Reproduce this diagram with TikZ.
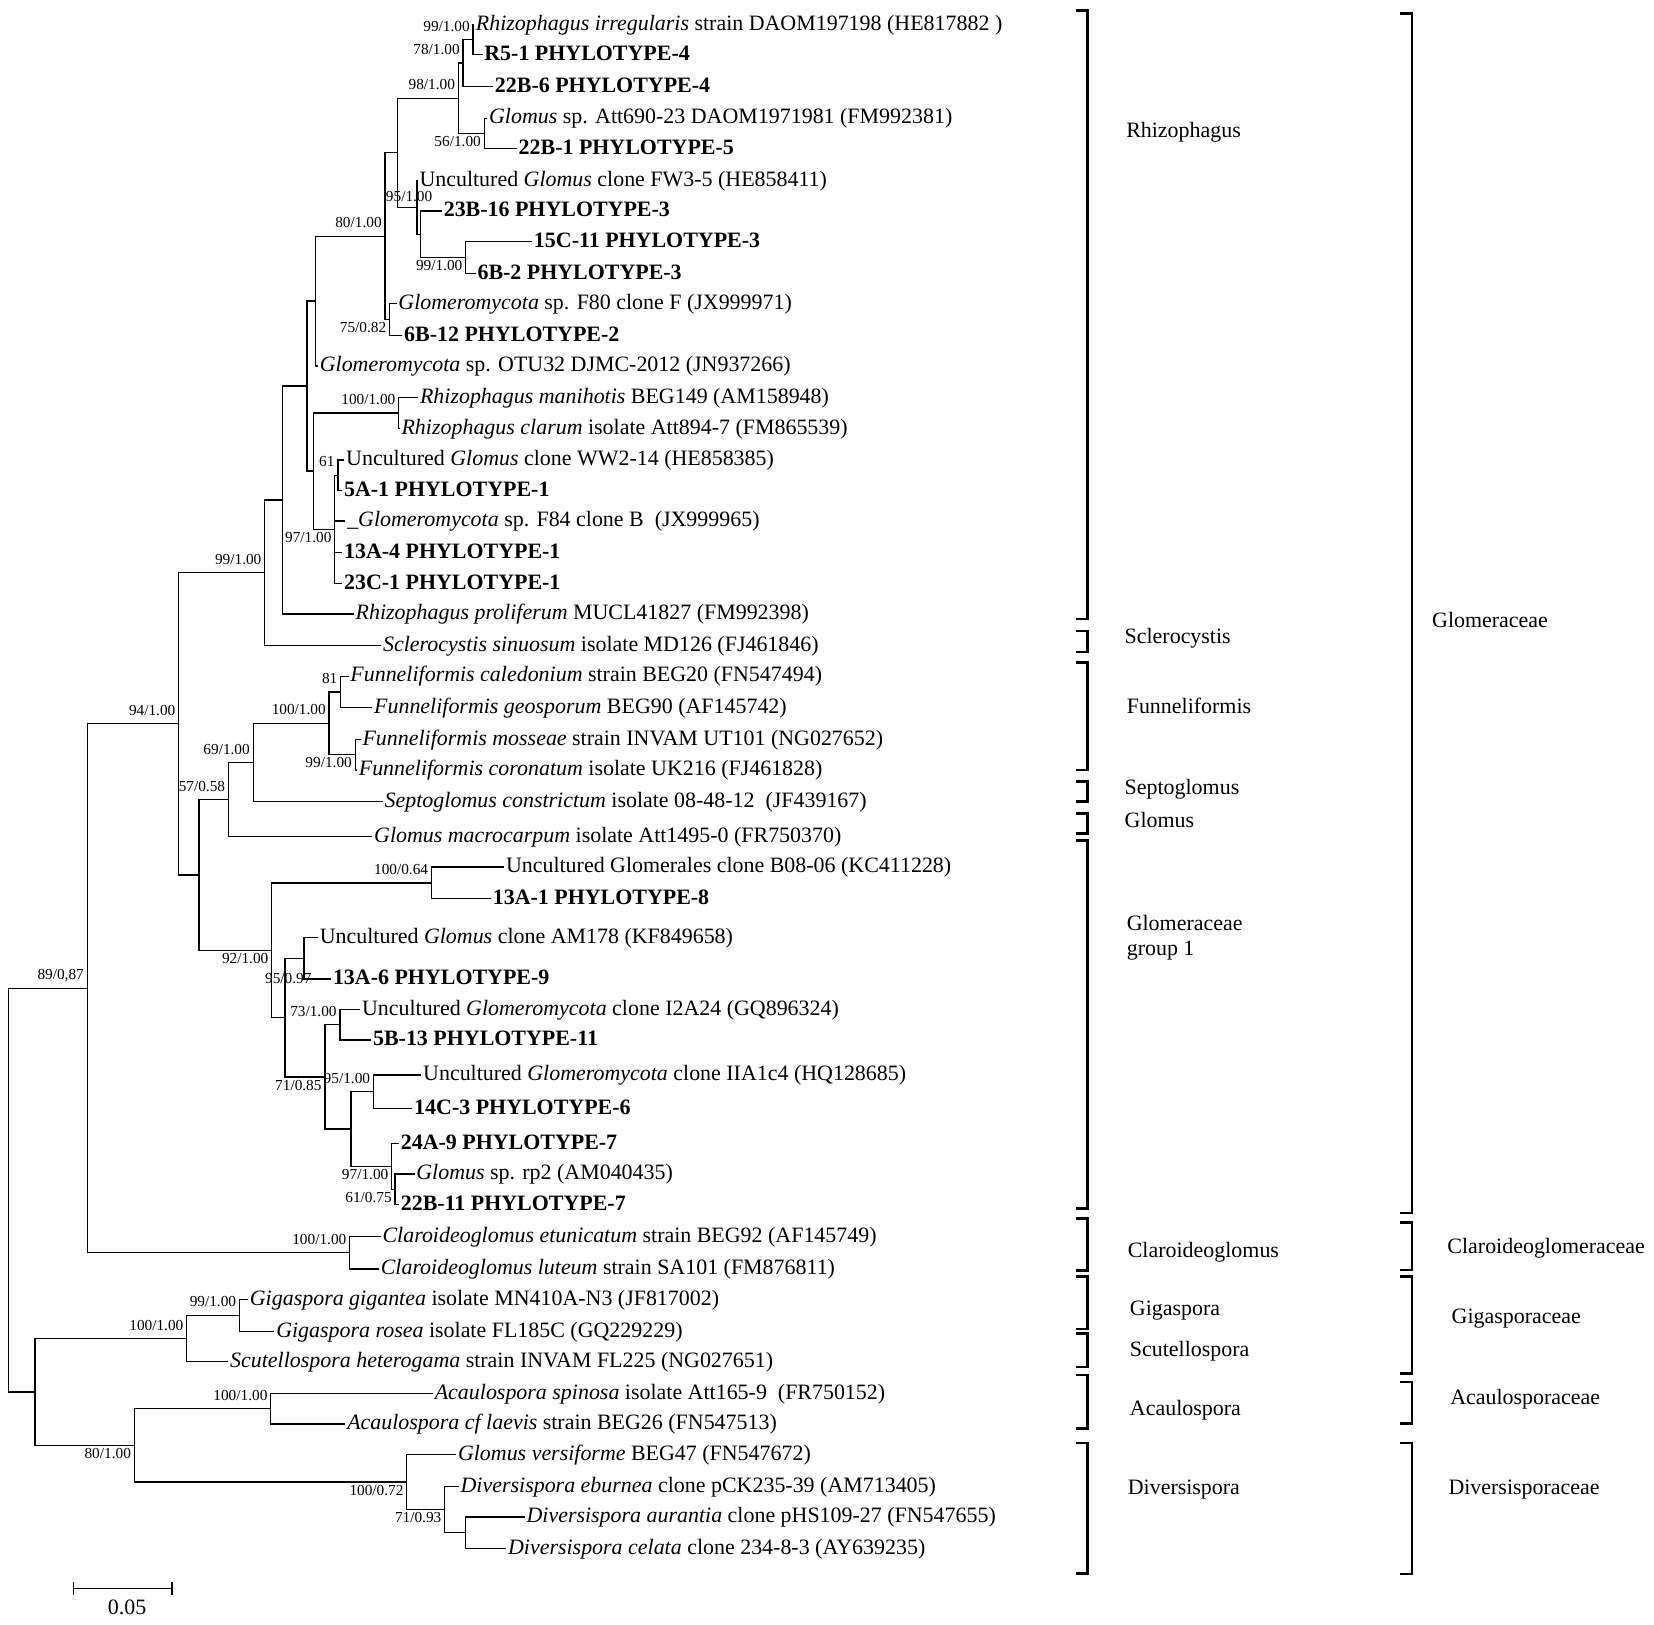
\documentclass[tikz,border=0pt]{standalone}
\usepackage{fontspec}
\setmainfont{Liberation Serif}
\tikzset{
  br/.style={line width=1.2pt},
  clade/.style={line width=2.4pt},
  leaf/.style={anchor=west, inner sep=1.5pt, text height=1.1em, text depth=0em, font=\fontsize{20.8}{25}\selectfont},
  grp/.style={anchor=west, inner sep=0pt, align=left, font=\fontsize{20.8}{24.5}\selectfont},
  bs/.style={anchor=base east, inner sep=0pt, font=\fontsize{14.5}{16}\selectfont},
  bsa/.style={bs, xshift=-3pt, yshift=8pt},
  bsb/.style={bs, xshift=-3pt, yshift=-12.5pt},
}
\begin{document}
\begin{tikzpicture}[x=1pt, y=-1pt]
\useasboundingbox (0,0) rectangle (1568,1540);
% leaves
\node[leaf] (l1) at (449.5,23) {\textit{Rhizophagus irregularis} strain DAOM197198 (HE817882 )};
\node[leaf] (l2) at (457.5,52) {\textbf{R5-1 PHYLOTYPE-4}};
\node[leaf] (l3) at (467.5,82) {\textbf{22B-6 PHYLOTYPE-4}};
\node[leaf] (l4) at (462,112) {\textit{Glomus} sp. Att690-23 DAOM1971981 (FM992381)};
\node[leaf] (l5) at (490,141) {\textbf{22B-1 PHYLOTYPE-5}};
\node[leaf] (l6) at (396,171) {Uncultured \textit{Glomus} clone FW3-5 (HE858411)};
\node[leaf] (l7) at (419,200) {\textbf{23B-16 PHYLOTYPE-3}};
\node[leaf] (l8) at (504.5,229) {\textbf{15C-11 PHYLOTYPE-3}};
\node[leaf] (l9) at (451,259) {\textbf{6B-2 PHYLOTYPE-3}};
\node[leaf] (l10) at (376,288) {\textit{Glomeromycota} sp. F80 clone F (JX999971)};
\node[leaf] (l11) at (381.5,318) {\textbf{6B-12 PHYLOTYPE-2}};
\node[leaf] (l12) at (301.5,347) {\textit{Glomeromycota} sp. OTU32 DJMC-2012 (JN937266)};
\node[leaf] (l13) at (396.5,377) {\textit{Rhizophagus manihotis} BEG149 (AM158948)};
\node[leaf] (l14) at (379,406) {\textit{Rhizophagus clarum} isolate Att894-7 (FM865539)};
\node[leaf] (l15) at (326.5,436) {Uncultured \textit{Glomus} clone WW2-14 (HE858385)};
\node[leaf] (l16) at (324.5,465) {\textbf{5A-1 PHYLOTYPE-1}};
\node[leaf] (l17) at (327.5,494) {\_\textit{Glomeromycota} sp. F84 clone B\ \ (JX999965)};
\node[leaf] (l18) at (324.5,524) {\textbf{13A-4 PHYLOTYPE-1}};
\node[leaf] (l19) at (324.5,553) {\textbf{23C-1 PHYLOTYPE-1}};
\node[leaf] (l20) at (335.5,582) {\textit{Rhizophagus proliferum} MUCL41827 (FM992398)};
\node[leaf] (l21) at (361.5,612) {\textit{Sclerocystis sinuosum} isolate MD126 (FJ461846)};
\node[leaf] (l22) at (330.5,641) {\textit{Funneliformis caledonium} strain BEG20 (FN547494)};
\node[leaf] (l23) at (353,671) {\textit{Funneliformis geosporum} BEG90 (AF145742)};
\node[leaf] (l24) at (342,701) {\textit{Funneliformis mosseae} strain INVAM UT101 (NG027652)};
\node[leaf] (l25) at (338.5,730) {\textit{Funneliformis coronatum} isolate UK216 (FJ461828)};
\node[leaf] (l26) at (363,760) {\textit{Septoglomus constrictum} isolate 08-48-12\ \ (JF439167)};
\node[leaf] (l27) at (353,793) {\textit{Glomus macrocarpum} isolate Att1495-0 (FR750370)};
\node[leaf] (l28) at (478,822) {Uncultured Glomerales clone B08-06 (KC411228)};
\node[leaf] (l29) at (465.5,852) {\textbf{13A-1 PHYLOTYPE-8}};
\node[leaf] (l30) at (301.5,889) {Uncultured \textit{Glomus} clone AM178 (KF849658)};
\node[leaf] (l31) at (314,928) {\textbf{13A-6 PHYLOTYPE-9}};
\node[leaf] (l32) at (341.5,957) {Uncultured \textit{Glomeromycota} clone I2A24 (GQ896324)};
\node[leaf] (l33) at (352,986) {\textbf{5B-13 PHYLOTYPE-11}};
\node[leaf] (l34) at (399.5,1019) {Uncultured \textit{Glomeromycota} clone IIA1c4 (HQ128685)};
\node[leaf] (l35) at (391,1051) {\textbf{14C-3 PHYLOTYPE-6}};
\node[leaf] (l36) at (378.3,1084) {\textbf{24A-9 PHYLOTYPE-7}};
\node[leaf] (l37) at (393,1113) {\textit{Glomus} sp. rp2 (AM040435)};
\node[leaf] (l38) at (378.3,1142) {\textbf{22B-11 PHYLOTYPE-7}};
\node[leaf] (l39) at (361,1172) {\textit{Claroideoglomus etunicatum} strain BEG92 (AF145749)};
\node[leaf] (l40) at (359.3,1203) {\textit{Claroideoglomus luteum} strain SA101 (FM876811)};
\node[leaf] (l41) at (235.2,1232) {\textit{Gigaspora gigantea} isolate MN410A-N3 (JF817002)};
\node[leaf] (l42) at (260.2,1262) {\textit{Gigaspora rosea} isolate FL185C (GQ229229)};
\node[leaf] (l43) at (216.5,1291) {\textit{Scutellospora heterogama} strain INVAM FL225 (NG027651)};
\node[leaf] (l44) at (410.5,1321) {\textit{Acaulospora spinosa} isolate Att165-9\ \ (FR750152)};
\node[leaf] (l45) at (327.5,1350) {\textit{Acaulospora cf laevis} strain BEG26 (FN547513)};
\node[leaf] (l46) at (432.5,1379) {\textit{Glomus versiforme} BEG47 (FN547672)};
\node[leaf] (l47) at (435,1409) {\textit{Diversispora eburnea} clone pCK235-39 (AM713405)};
\node[leaf] (l48) at (497.5,1438) {\textit{Diversispora aurantia} clone pHS109-27 (FN547655)};
\node[leaf] (l49) at (480,1468) {\textit{Diversispora celata} clone 234-8-3 (AY639235)};
% internal nodes
\coordinate (A) at (448.5,37.5);
\coordinate (B) at (439,59.75);
\coordinate (D) at (459,126.5);
\coordinate (C) at (434.5,93.1);
\coordinate (H) at (441.5,244);
\coordinate (G) at (398.6,222);
\coordinate (F) at (395.3,196.5);
\coordinate (E) at (376.6,144.8);
\coordinate (J) at (369.3,303);
\coordinate (I) at (365,223.9);
\coordinate (V) at (299,285.45);
\coordinate (S) at (378,391.5);
\coordinate (U) at (320.3,450.5);
\coordinate (T) at (317.4,501.75);
\coordinate (R) at (297.5,446.6);
\coordinate (Q) at (291,366);
\coordinate (P) at (268,474);
\coordinate (N1) at (251,543);
\coordinate (X) at (323,656);
\coordinate (Y) at (336.7,715.5);
\coordinate (W) at (312,685.75);
\coordinate (O) at (240,722.9);
\coordinate (N) at (216.6,757.9);
\coordinate (AA) at (409,837);
\coordinate (DD) at (288.2,908.5);
\coordinate (FF) at (322.3,971.5);
\coordinate (HH) at (354,1035);
\coordinate (JJ) at (374.5,1127.5);
\coordinate (II) at (371.3,1105.75);
\coordinate (GG) at (332.7,1070.4);
\coordinate (EE) at (308,1020.95);
\coordinate (CC) at (270.2,964.7);
\coordinate (Z) at (257.6,900.85);
\coordinate (M) at (188.7,829.4);
\coordinate (L) at (169.4,686.2);
\coordinate (KK) at (331.5,1187.5);
\coordinate (K) at (82.7,936.85);
\coordinate (NN) at (227,1247);
\coordinate (MM) at (177,1269);
\coordinate (PP) at (256.7,1335.5);
\coordinate (SS) at (441.6,1453);
\coordinate (RR) at (421.6,1431);
\coordinate (QQ) at (385.7,1405);
\coordinate (OO) at (127.3,1370.25);
\coordinate (LL) at (33.3,1319.6);
\coordinate (root) at (8.3,1128.2);
% branches
\draw[br] (l1.west) -| (A) |- (l2.west);
\draw[br] (A) -| (B) |- (l3.west);
\draw[br] (l4.west) -| (D) |- (l5.west);
\draw[br] (B) -| (C) |- (D);
\draw[br] (l8.west) -| (H) |- (l9.west);
\draw[br] (l7.west) -| (G) |- (H);
\draw[br] (l6.west) -| (F) |- (G);
\draw[br] (C) -| (E) |- (F);
\draw[br] (l10.west) -| (J) |- (l11.west);
\draw[br] (E) -| (I) |- (J);
\draw[br] (I) -| (V) |- (l12.west);
\draw[br] (l13.west) -| (S) |- (l14.west);
\draw[br] (l15.west) -| (U) |- (l16.west);
\draw[br] (U) -| (T) |- (l19.west) (T) |- (l17.west) (T) |- (l18.west);
\draw[br] (S) -| (R) |- (T);
\draw[br] (V) -| (Q) |- (R);
\draw[br] (Q) -| (P) |- (l20.west);
\draw[br] (P) -| (N1) |- (l21.west);
\draw[br] (l22.west) -| (X) |- (l23.west);
\draw[br] (l24.west) -| (Y) |- (l25.west);
\draw[br] (X) -| (W) |- (Y);
\draw[br] (W) -| (O) |- (l26.west);
\draw[br] (O) -| (N) |- (l27.west);
\draw[br] (l28.west) -| (AA) |- (l29.west);
\draw[br] (l30.west) -| (DD) |- (l31.west);
\draw[br] (l32.west) -| (FF) |- (l33.west);
\draw[br] (l34.west) -| (HH) |- (l35.west);
\draw[br] (l37.west) -| (JJ) |- (l38.west);
\draw[br] (l36.west) -| (II) |- (JJ);
\draw[br] (HH) -| (GG) |- (II);
\draw[br] (FF) -| (EE) |- (GG);
\draw[br] (DD) -| (CC) |- (EE);
\draw[br] (AA) -| (Z) |- (CC);
\draw[br] (N) -| (M) |- (Z);
\draw[br] (N1) -| (L) |- (M);
\draw[br] (l39.west) -| (KK) |- (l40.west);
\draw[br] (L) -| (K) |- (KK);
\draw[br] (l41.west) -| (NN) |- (l42.west);
\draw[br] (NN) -| (MM) |- (l43.west);
\draw[br] (l44.west) -| (PP) |- (l45.west);
\draw[br] (l48.west) -| (SS) |- (l49.west);
\draw[br] (l47.west) -| (RR) |- (SS);
\draw[br] (l46.west) -| (QQ) |- (RR);
\draw[br] (PP) -| (OO) |- (QQ);
\draw[br] (MM) -| (LL) |- (OO);
\draw[br] (K) -| (root) |- (LL);
% support values
\node[bsa] at (A) {99/1.00};
\node[bsa] at (B) {78/1.00};
\node[bsa] at (C) {98/1.00};
\node[bsb] at (D) {56/1.00};
\node[bs] at (410,191) {95/1.00};
\node[bsb] at (H) {99/1.00};
\node[bsa] at (I) {80/1.00};
\node[bsb] at (J) {75/0.82};
\node[bsa] at (S) {100/1.00};
\node[bsa] at (U) {61};
\node[bsb] at (T) {97/1.00};
\node[bsa] at (N1) {99/1.00};
\node[bsa] at (X) {81};
\node[bsa] at (W) {100/1.00};
\node[bsb] at (Y) {99/1.00};
\node[bsa] at (O) {69/1.00};
\node[bsa] at (N) {57/0.58};
\node[bsa] at (L) {94/1.00};
\node[bsa] at (AA) {100/0.64};
\node[bsb] at (Z) {92/1.00};
\node[bs] at (295.5,932) {95/0.97};
\node[bsa] at (FF) {73/1.00};
\node[bsb] at (EE) {71/0.85};
\node[bsa] at (HH) {95/1.00};
\node[bsb] at (II) {97/1.00};
\node[bsb] at (JJ) {61/0.75};
\node[bsa] at (K) {89/0,87};
\node[bsa] at (KK) {100/1.00};
\node[bsa] at (NN) {99/1.00};
\node[bsa] at (MM) {100/1.00};
\node[bsa] at (PP) {100/1.00};
\node[bsb] at (OO) {80/1.00};
\node[bsb] at (QQ) {100/0.72};
\node[bsb] at (RR) {71/0.93};
% genera
\draw[clade] (1020,10) -| (1031,587) -- (1020,587);
\draw[clade] (1020,598) -| (1031,618) -- (1020,618);
\draw[clade] (1020,628) -| (1031,730) -- (1020,730);
\draw[clade] (1020,741) -| (1031,760) -- (1020,760);
\draw[clade] (1020,771) -| (1031,790) -- (1020,790);
\draw[clade] (1020,797) -| (1031,1145.5) -- (1020,1145.5);
\draw[clade] (1020,1155) -| (1031,1204.5) -- (1020,1204.5);
\draw[clade] (1020,1210) -| (1031,1260) -- (1020,1260);
\draw[clade] (1020,1264) -| (1031,1296) -- (1020,1296);
\draw[clade] (1020,1303.5) -| (1031,1354) -- (1020,1354);
\draw[clade] (1020,1368) -| (1031,1491.5) -- (1020,1491.5);
\node[grp] (rhizo) at (1067.5,125) {Rhizophagus};
\node[grp] (sclero) at (1066,605) {Sclerocystis};
\node[grp] (funnel) at (1068,669) {Funneliformis};
\node[grp] (septo) at (1066,748) {Septoglomus};
\node[grp] (glomus) at (1066,777) {Glomus};
\node[grp] (group1) at (1068,889) {Glomeraceae\\group 1};
\node[grp] (claro) at (1069,1187.5) {Claroideoglomus};
\node[grp] (giga) at (1071,1242.5) {Gigaspora};
\node[grp] (scutello) at (1071,1281) {Scutellospora};
\node[grp] (acaulo) at (1071,1336.6) {Acaulospora};
\node[grp] (diversi) at (1069,1412.5) {Diversispora};
% families
\draw[clade] (1327,13) -| (1338.5,1150) -- (1327,1150);
\draw[clade] (1327,1159) -| (1338.5,1204) -- (1327,1204);
\draw[clade] (1327,1210) -| (1338.5,1302) -- (1327,1302);
\draw[clade] (1327,1310) -| (1338.5,1349.5) -- (1327,1349.5);
\draw[clade] (1327,1368) -| (1338.5,1492) -- (1327,1492);
\node[grp] (glomeraceae) at (1357.5,588) {Glomeraceae};
\node[grp] (claroceae) at (1372,1183.5) {Claroideoglomeraceae};
\node[grp] (gigaceae) at (1376,1249.7) {Gigasporaceae};
\node[grp] (acauloceae) at (1374.7,1326.5) {Acaulosporaceae};
\node[grp] (diversiceae) at (1373,1412) {Diversisporaceae};
% scale bar
\coordinate (s0) at (70,1506);
\coordinate (s1) at (163,1506);
\draw[br] (s0) -- (s1);
\draw[br] (s0) ++(0,-6) -- ++(0,12);
\draw[br] (s1) ++(0,-6) -- ++(0,12);
\node[grp, anchor=center] (scale) at (120.5,1524) {0.05};
\end{tikzpicture}
\end{document}
